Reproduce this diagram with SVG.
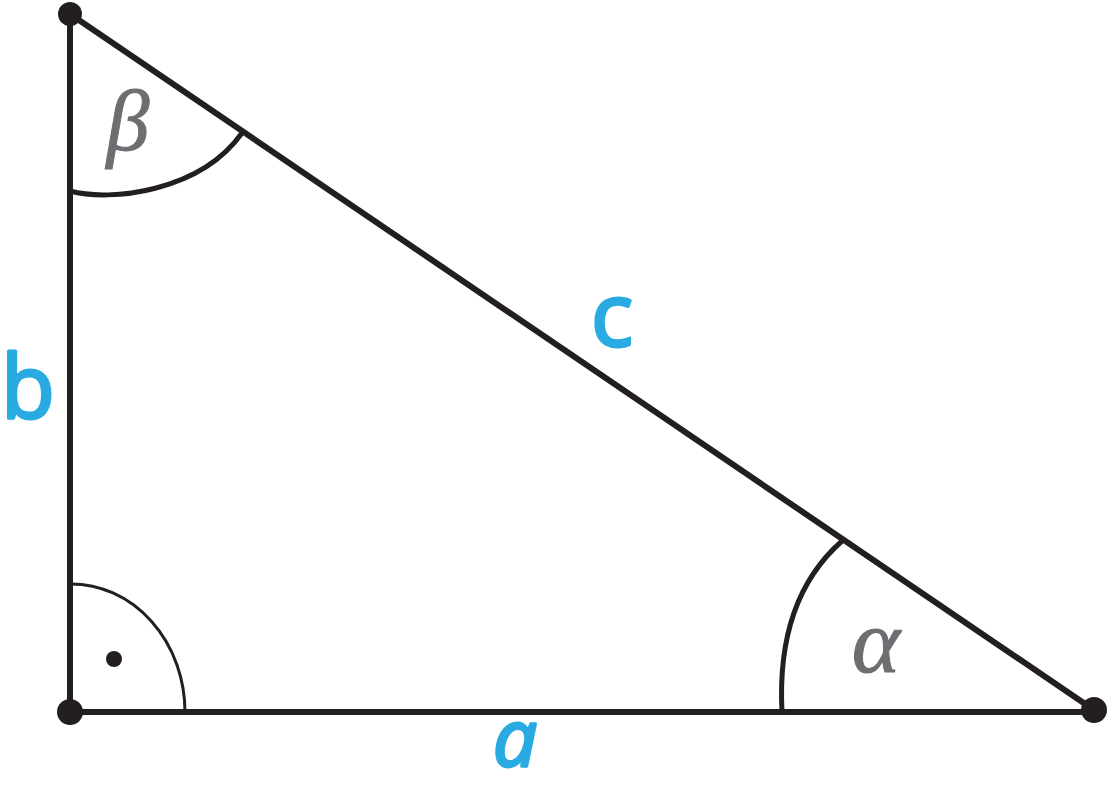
<svg xmlns="http://www.w3.org/2000/svg" width="1108" height="789" viewBox="0 0 1108 789">
<style>
.side{stroke:#231f20;stroke-width:6;fill:none;stroke-linecap:butt}
.arc{stroke:#231f20;stroke-width:5;fill:none}
.thin{stroke:#231f20;stroke-width:3;fill:none}
.pt{fill:#231f20}
.greek{font-family:"Liberation Serif",serif;font-style:italic;fill:#6d6e71;stroke:#6d6e71;stroke-width:1;text-anchor:middle}
.lbl{font-family:"Open Sans","DejaVu Sans",sans-serif;font-weight:400;fill:#29abe2;stroke:#29abe2;stroke-width:3;stroke-linejoin:round;stroke-linecap:round;text-anchor:middle}
</style>
<rect width="1108" height="789" fill="#ffffff"/>
<g id="connectors">
<line class="side" x1="70" y1="14" x2="70" y2="712"/>
<line class="side" x1="70" y1="712" x2="1094" y2="712"/>
<line class="side" x1="70" y1="14" x2="1094" y2="710"/>
<path class="arc" d="M70,191 C110,202 200,192 242,133"/>
<path class="arc" d="M842,541 C800,578 778,635 782,712"/>
<path class="thin" d="M71,584 A114,128 0 0 1 185,712"/>
</g>
<g id="vertex-top"><circle class="pt" cx="70" cy="14" r="12"/></g>
<g id="vertex-right-angle"><circle class="pt" cx="70" cy="712" r="13"/><circle class="pt" cx="114" cy="659" r="8"/></g>
<g id="vertex-right"><circle class="pt" cx="1094" cy="710" r="13"/></g>
<g id="labels">
<text class="greek" x="128" y="150" font-size="86">β</text>
<text class="greek" x="876" y="672" font-size="92">α</text>
<text class="lbl" x="612" y="346" font-size="88">c</text>
<text class="lbl" x="28" y="418" font-size="88">b</text>
<text class="lbl" x="515" y="766" font-size="78" font-style="italic">a</text>
</g>
</svg>
